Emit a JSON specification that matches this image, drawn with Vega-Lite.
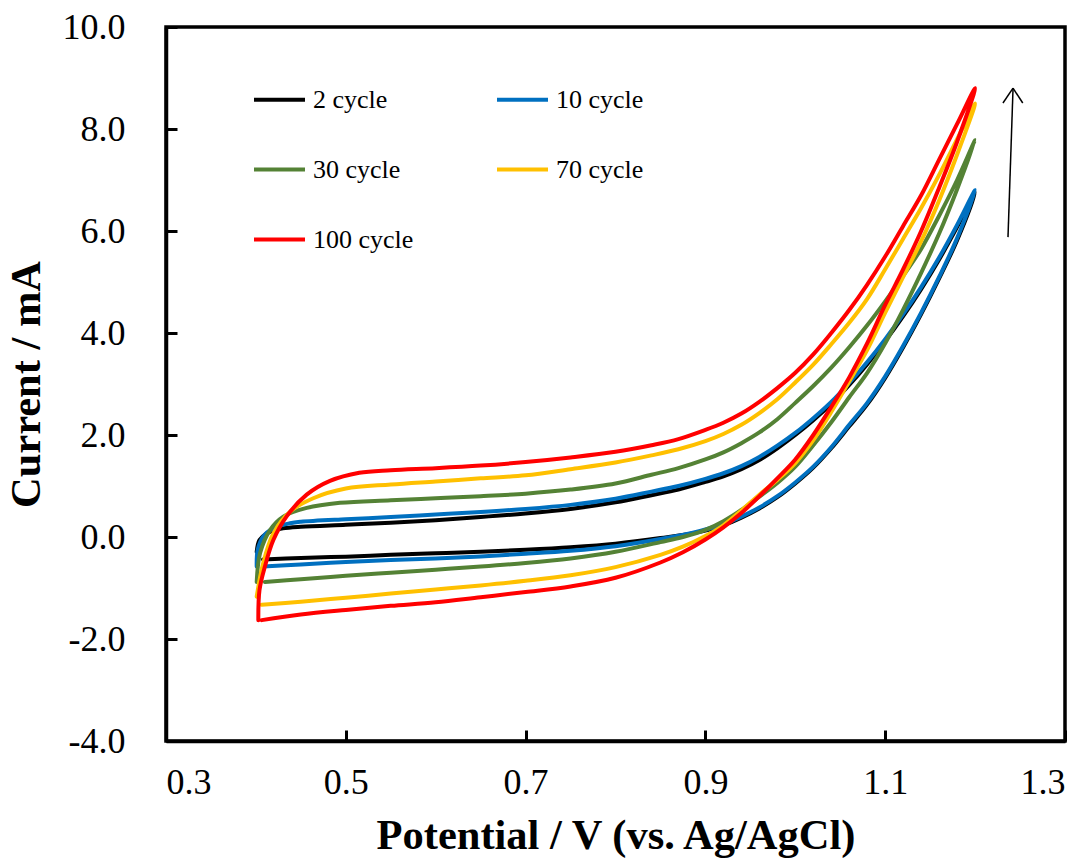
{
  "$schema": "https://vega.github.io/schema/vega-lite/v6.json",
  "width": 899,
  "height": 714,
  "autosize": {"type": "none"},
  "padding": {"left": 166, "top": 27, "right": 21, "bottom": 123},
  "background": "white",
  "config": {
    "view": {"stroke": "black", "strokeWidth": 3.5},
    "font": "Liberation Serif",
    "axis": {
      "grid": false,
      "domainColor": "black",
      "domainWidth": 3.5,
      "tickColor": "black",
      "tickWidth": 3,
      "tickSize": -11,
      "labelFont": "Liberation Serif",
      "labelFontSize": 36,
      "labelColor": "black",
      "titleFont": "Liberation Serif",
      "titleFontSize": 42.5,
      "titleFontWeight": "bold",
      "titleColor": "black"
    }
  },
  "datasets": {
    "cv": [
      {"c":"2 cycle","i":0,"v":0.408,"a":-0.44},{"c":"2 cycle","i":1,"v":0.45,"a":-0.41},{"c":"2 cycle","i":2,"v":0.5,"a":-0.385},{"c":"2 cycle","i":3,"v":0.55,"a":-0.35},{"c":"2 cycle","i":4,"v":0.6,"a":-0.32},{"c":"2 cycle","i":5,"v":0.65,"a":-0.29},{"c":"2 cycle","i":6,"v":0.7,"a":-0.25},{"c":"2 cycle","i":7,"v":0.75,"a":-0.2},{"c":"2 cycle","i":8,"v":0.8,"a":-0.13},{"c":"2 cycle","i":9,"v":0.85,"a":-0.02},{"c":"2 cycle","i":10,"v":0.894,"a":0.10},{"c":"2 cycle","i":11,"v":0.92,"a":0.23},{"c":"2 cycle","i":12,"v":0.94,"a":0.38},{"c":"2 cycle","i":13,"v":0.96,"a":0.56},{"c":"2 cycle","i":14,"v":0.98,"a":0.78},{"c":"2 cycle","i":15,"v":1.0,"a":1.05},{"c":"2 cycle","i":16,"v":1.02,"a":1.36},{"c":"2 cycle","i":17,"v":1.04,"a":1.74},{"c":"2 cycle","i":18,"v":1.06,"a":2.17},{"c":"2 cycle","i":19,"v":1.08,"a":2.6},{"c":"2 cycle","i":20,"v":1.1,"a":3.12},{"c":"2 cycle","i":21,"v":1.12,"a":3.72},{"c":"2 cycle","i":22,"v":1.14,"a":4.37},{"c":"2 cycle","i":23,"v":1.16,"a":5.07},{"c":"2 cycle","i":24,"v":1.18,"a":5.82},{"c":"2 cycle","i":25,"v":1.2,"a":6.75},
      {"c":"2 cycle","i":26,"v":1.18,"a":6.08},{"c":"2 cycle","i":27,"v":1.16,"a":5.44},{"c":"2 cycle","i":28,"v":1.14,"a":4.86},{"c":"2 cycle","i":29,"v":1.12,"a":4.33},{"c":"2 cycle","i":30,"v":1.1,"a":3.84},{"c":"2 cycle","i":31,"v":1.08,"a":3.39},{"c":"2 cycle","i":32,"v":1.06,"a":2.98},{"c":"2 cycle","i":33,"v":1.04,"a":2.61},{"c":"2 cycle","i":34,"v":1.02,"a":2.29},{"c":"2 cycle","i":35,"v":1.0,"a":2.0},{"c":"2 cycle","i":36,"v":0.98,"a":1.74},{"c":"2 cycle","i":37,"v":0.96,"a":1.51},{"c":"2 cycle","i":38,"v":0.94,"a":1.33},{"c":"2 cycle","i":39,"v":0.92,"a":1.19},{"c":"2 cycle","i":40,"v":0.9,"a":1.08},{"c":"2 cycle","i":41,"v":0.87,"a":0.93},{"c":"2 cycle","i":42,"v":0.84,"a":0.82},{"c":"2 cycle","i":43,"v":0.8,"a":0.68},{"c":"2 cycle","i":44,"v":0.75,"a":0.55},{"c":"2 cycle","i":45,"v":0.7,"a":0.46},{"c":"2 cycle","i":46,"v":0.65,"a":0.39},{"c":"2 cycle","i":47,"v":0.6,"a":0.33},{"c":"2 cycle","i":48,"v":0.55,"a":0.28},{"c":"2 cycle","i":49,"v":0.5,"a":0.24},{"c":"2 cycle","i":50,"v":0.45,"a":0.2},{"c":"2 cycle","i":51,"v":0.43,"a":0.17},{"c":"2 cycle","i":52,"v":0.42,"a":0.13},{"c":"2 cycle","i":53,"v":0.412,"a":0.07},{"c":"2 cycle","i":54,"v":0.404,"a":-0.06},{"c":"2 cycle","i":55,"v":0.4009,"a":-0.29},
      {"c":"10 cycle","i":0,"v":0.408,"a":-0.58},{"c":"10 cycle","i":1,"v":0.45,"a":-0.54},{"c":"10 cycle","i":2,"v":0.5,"a":-0.49},{"c":"10 cycle","i":3,"v":0.55,"a":-0.45},{"c":"10 cycle","i":4,"v":0.6,"a":-0.42},{"c":"10 cycle","i":5,"v":0.65,"a":-0.38},{"c":"10 cycle","i":6,"v":0.7,"a":-0.33},{"c":"10 cycle","i":7,"v":0.75,"a":-0.27},{"c":"10 cycle","i":8,"v":0.8,"a":-0.18},{"c":"10 cycle","i":9,"v":0.85,"a":-0.04},{"c":"10 cycle","i":10,"v":0.894,"a":0.12},{"c":"10 cycle","i":11,"v":0.92,"a":0.25},{"c":"10 cycle","i":12,"v":0.94,"a":0.40},{"c":"10 cycle","i":13,"v":0.96,"a":0.58},{"c":"10 cycle","i":14,"v":0.98,"a":0.80},{"c":"10 cycle","i":15,"v":1.0,"a":1.07},{"c":"10 cycle","i":16,"v":1.02,"a":1.38},{"c":"10 cycle","i":17,"v":1.04,"a":1.76},{"c":"10 cycle","i":18,"v":1.06,"a":2.2},{"c":"10 cycle","i":19,"v":1.08,"a":2.63},{"c":"10 cycle","i":20,"v":1.1,"a":3.15},{"c":"10 cycle","i":21,"v":1.12,"a":3.75},{"c":"10 cycle","i":22,"v":1.14,"a":4.4},{"c":"10 cycle","i":23,"v":1.16,"a":5.1},{"c":"10 cycle","i":24,"v":1.18,"a":5.86},{"c":"10 cycle","i":25,"v":1.2,"a":6.8},
      {"c":"10 cycle","i":26,"v":1.18,"a":6.12},{"c":"10 cycle","i":27,"v":1.16,"a":5.48},{"c":"10 cycle","i":28,"v":1.14,"a":4.9},{"c":"10 cycle","i":29,"v":1.12,"a":4.37},{"c":"10 cycle","i":30,"v":1.1,"a":3.88},{"c":"10 cycle","i":31,"v":1.08,"a":3.43},{"c":"10 cycle","i":32,"v":1.06,"a":3.02},{"c":"10 cycle","i":33,"v":1.04,"a":2.65},{"c":"10 cycle","i":34,"v":1.02,"a":2.33},{"c":"10 cycle","i":35,"v":1.0,"a":2.04},{"c":"10 cycle","i":36,"v":0.98,"a":1.79},{"c":"10 cycle","i":37,"v":0.96,"a":1.57},{"c":"10 cycle","i":38,"v":0.94,"a":1.39},{"c":"10 cycle","i":39,"v":0.92,"a":1.25},{"c":"10 cycle","i":40,"v":0.9,"a":1.14},{"c":"10 cycle","i":41,"v":0.87,"a":1.0},{"c":"10 cycle","i":42,"v":0.84,"a":0.89},{"c":"10 cycle","i":43,"v":0.8,"a":0.75},{"c":"10 cycle","i":44,"v":0.75,"a":0.63},{"c":"10 cycle","i":45,"v":0.7,"a":0.55},{"c":"10 cycle","i":46,"v":0.65,"a":0.49},{"c":"10 cycle","i":47,"v":0.6,"a":0.44},{"c":"10 cycle","i":48,"v":0.55,"a":0.39},{"c":"10 cycle","i":49,"v":0.5,"a":0.35},{"c":"10 cycle","i":50,"v":0.45,"a":0.3},{"c":"10 cycle","i":51,"v":0.438,"a":0.27},{"c":"10 cycle","i":52,"v":0.4194,"a":0.17},{"c":"10 cycle","i":53,"v":0.408,"a":0.006},{"c":"10 cycle","i":54,"v":0.402,"a":-0.25},{"c":"10 cycle","i":55,"v":0.4009,"a":-0.58},
      {"c":"30 cycle","i":0,"v":0.41,"a":-0.88},{"c":"30 cycle","i":1,"v":0.45,"a":-0.83},{"c":"30 cycle","i":2,"v":0.5,"a":-0.76},{"c":"30 cycle","i":3,"v":0.55,"a":-0.7},{"c":"30 cycle","i":4,"v":0.6,"a":-0.64},{"c":"30 cycle","i":5,"v":0.65,"a":-0.58},{"c":"30 cycle","i":6,"v":0.7,"a":-0.51},{"c":"30 cycle","i":7,"v":0.75,"a":-0.42},{"c":"30 cycle","i":8,"v":0.8,"a":-0.29},{"c":"30 cycle","i":9,"v":0.85,"a":-0.10},{"c":"30 cycle","i":10,"v":0.875,"a":0.0},{"c":"30 cycle","i":11,"v":0.9,"a":0.14},{"c":"30 cycle","i":12,"v":0.92,"a":0.31},{"c":"30 cycle","i":13,"v":0.94,"a":0.53},{"c":"30 cycle","i":14,"v":0.96,"a":0.79},{"c":"30 cycle","i":15,"v":0.98,"a":1.06},{"c":"30 cycle","i":16,"v":1.0,"a":1.38},{"c":"30 cycle","i":17,"v":1.02,"a":1.8},{"c":"30 cycle","i":18,"v":1.04,"a":2.25},{"c":"30 cycle","i":19,"v":1.06,"a":2.74},{"c":"30 cycle","i":20,"v":1.08,"a":3.22},{"c":"30 cycle","i":21,"v":1.1,"a":3.8},{"c":"30 cycle","i":22,"v":1.12,"a":4.46},{"c":"30 cycle","i":23,"v":1.14,"a":5.18},{"c":"30 cycle","i":24,"v":1.16,"a":5.95},{"c":"30 cycle","i":25,"v":1.18,"a":6.82},{"c":"30 cycle","i":26,"v":1.2,"a":7.78},
      {"c":"30 cycle","i":27,"v":1.18,"a":7.0},{"c":"30 cycle","i":28,"v":1.16,"a":6.3},{"c":"30 cycle","i":29,"v":1.14,"a":5.65},{"c":"30 cycle","i":30,"v":1.12,"a":5.12},{"c":"30 cycle","i":31,"v":1.1,"a":4.62},{"c":"30 cycle","i":32,"v":1.08,"a":4.15},{"c":"30 cycle","i":33,"v":1.06,"a":3.72},{"c":"30 cycle","i":34,"v":1.04,"a":3.32},{"c":"30 cycle","i":35,"v":1.02,"a":2.96},{"c":"30 cycle","i":36,"v":1.0,"a":2.63},{"c":"30 cycle","i":37,"v":0.98,"a":2.31},{"c":"30 cycle","i":38,"v":0.96,"a":2.05},{"c":"30 cycle","i":39,"v":0.94,"a":1.84},{"c":"30 cycle","i":40,"v":0.92,"a":1.66},{"c":"30 cycle","i":41,"v":0.9,"a":1.52},{"c":"30 cycle","i":42,"v":0.87,"a":1.35},{"c":"30 cycle","i":43,"v":0.84,"a":1.22},{"c":"30 cycle","i":44,"v":0.8,"a":1.05},{"c":"30 cycle","i":45,"v":0.75,"a":0.93},{"c":"30 cycle","i":46,"v":0.7,"a":0.85},{"c":"30 cycle","i":47,"v":0.65,"a":0.8},{"c":"30 cycle","i":48,"v":0.6,"a":0.76},{"c":"30 cycle","i":49,"v":0.55,"a":0.72},{"c":"30 cycle","i":50,"v":0.4935,"a":0.67},{"c":"30 cycle","i":51,"v":0.4565,"a":0.57},{"c":"30 cycle","i":52,"v":0.4305,"a":0.40},{"c":"30 cycle","i":53,"v":0.4157,"a":0.137},{"c":"30 cycle","i":54,"v":0.4046,"a":-0.32},{"c":"30 cycle","i":55,"v":0.4009,"a":-0.88},
      {"c":"70 cycle","i":0,"v":0.4065,"a":-1.33},{"c":"70 cycle","i":1,"v":0.45,"a":-1.27},{"c":"70 cycle","i":2,"v":0.5,"a":-1.19},{"c":"70 cycle","i":3,"v":0.55,"a":-1.11},{"c":"70 cycle","i":4,"v":0.6,"a":-1.03},{"c":"70 cycle","i":5,"v":0.65,"a":-0.95},{"c":"70 cycle","i":6,"v":0.7,"a":-0.86},{"c":"70 cycle","i":7,"v":0.75,"a":-0.75},{"c":"70 cycle","i":8,"v":0.8,"a":-0.59},{"c":"70 cycle","i":9,"v":0.85,"a":-0.35},{"c":"70 cycle","i":10,"v":0.875,"a":-0.19},{"c":"70 cycle","i":11,"v":0.9,"a":0.02},{"c":"70 cycle","i":12,"v":0.92,"a":0.23},{"c":"70 cycle","i":13,"v":0.94,"a":0.52},{"c":"70 cycle","i":14,"v":0.96,"a":0.83},{"c":"70 cycle","i":15,"v":0.98,"a":1.12},{"c":"70 cycle","i":16,"v":1.0,"a":1.45},{"c":"70 cycle","i":17,"v":1.02,"a":1.9},{"c":"70 cycle","i":18,"v":1.04,"a":2.45},{"c":"70 cycle","i":19,"v":1.06,"a":3.05},{"c":"70 cycle","i":20,"v":1.08,"a":3.67},{"c":"70 cycle","i":21,"v":1.1,"a":4.4},{"c":"70 cycle","i":22,"v":1.12,"a":5.1},{"c":"70 cycle","i":23,"v":1.14,"a":5.8},{"c":"70 cycle","i":24,"v":1.16,"a":6.6},{"c":"70 cycle","i":25,"v":1.18,"a":7.5},{"c":"70 cycle","i":26,"v":1.2,"a":8.5},
      {"c":"70 cycle","i":27,"v":1.18,"a":7.8},{"c":"70 cycle","i":28,"v":1.16,"a":7.1},{"c":"70 cycle","i":29,"v":1.14,"a":6.45},{"c":"70 cycle","i":30,"v":1.12,"a":5.85},{"c":"70 cycle","i":31,"v":1.1,"a":5.25},{"c":"70 cycle","i":32,"v":1.08,"a":4.67},{"c":"70 cycle","i":33,"v":1.06,"a":4.2},{"c":"70 cycle","i":34,"v":1.04,"a":3.78},{"c":"70 cycle","i":35,"v":1.02,"a":3.38},{"c":"70 cycle","i":36,"v":1.0,"a":3.03},{"c":"70 cycle","i":37,"v":0.98,"a":2.7},{"c":"70 cycle","i":38,"v":0.96,"a":2.43},{"c":"70 cycle","i":39,"v":0.94,"a":2.2},{"c":"70 cycle","i":40,"v":0.92,"a":2.02},{"c":"70 cycle","i":41,"v":0.9,"a":1.88},{"c":"70 cycle","i":42,"v":0.87,"a":1.72},{"c":"70 cycle","i":43,"v":0.84,"a":1.6},{"c":"70 cycle","i":44,"v":0.8,"a":1.46},{"c":"70 cycle","i":45,"v":0.75,"a":1.33},{"c":"70 cycle","i":46,"v":0.7,"a":1.21},{"c":"70 cycle","i":47,"v":0.65,"a":1.15},{"c":"70 cycle","i":48,"v":0.6,"a":1.09},{"c":"70 cycle","i":49,"v":0.55,"a":1.03},{"c":"70 cycle","i":50,"v":0.5,"a":0.95},{"c":"70 cycle","i":51,"v":0.4638,"a":0.76},{"c":"70 cycle","i":52,"v":0.438,"a":0.496},{"c":"70 cycle","i":53,"v":0.4194,"a":0.07},{"c":"70 cycle","i":54,"v":0.408,"a":-0.52},{"c":"70 cycle","i":55,"v":0.4009,"a":-1.17},
      {"c":"100 cycle","i":0,"v":0.4065,"a":-1.63},{"c":"100 cycle","i":1,"v":0.45,"a":-1.52},{"c":"100 cycle","i":2,"v":0.5,"a":-1.43},{"c":"100 cycle","i":3,"v":0.55,"a":-1.35},{"c":"100 cycle","i":4,"v":0.6,"a":-1.28},{"c":"100 cycle","i":5,"v":0.65,"a":-1.18},{"c":"100 cycle","i":6,"v":0.7,"a":-1.08},{"c":"100 cycle","i":7,"v":0.75,"a":-0.97},{"c":"100 cycle","i":8,"v":0.8,"a":-0.80},{"c":"100 cycle","i":9,"v":0.85,"a":-0.50},{"c":"100 cycle","i":10,"v":0.875,"a":-0.30},{"c":"100 cycle","i":11,"v":0.9,"a":-0.05},{"c":"100 cycle","i":12,"v":0.92,"a":0.19},{"c":"100 cycle","i":13,"v":0.94,"a":0.47},{"c":"100 cycle","i":14,"v":0.96,"a":0.8},{"c":"100 cycle","i":15,"v":0.98,"a":1.15},{"c":"100 cycle","i":16,"v":1.0,"a":1.52},{"c":"100 cycle","i":17,"v":1.02,"a":2.0},{"c":"100 cycle","i":18,"v":1.04,"a":2.55},{"c":"100 cycle","i":19,"v":1.06,"a":3.13},{"c":"100 cycle","i":20,"v":1.08,"a":3.8},{"c":"100 cycle","i":21,"v":1.1,"a":4.55},{"c":"100 cycle","i":22,"v":1.12,"a":5.25},{"c":"100 cycle","i":23,"v":1.14,"a":6.0},{"c":"100 cycle","i":24,"v":1.16,"a":6.85},{"c":"100 cycle","i":25,"v":1.18,"a":7.75},{"c":"100 cycle","i":26,"v":1.2,"a":8.8},
      {"c":"100 cycle","i":27,"v":1.18,"a":8.1},{"c":"100 cycle","i":28,"v":1.16,"a":7.4},{"c":"100 cycle","i":29,"v":1.14,"a":6.7},{"c":"100 cycle","i":30,"v":1.12,"a":6.1},{"c":"100 cycle","i":31,"v":1.1,"a":5.5},{"c":"100 cycle","i":32,"v":1.08,"a":4.95},{"c":"100 cycle","i":33,"v":1.06,"a":4.45},{"c":"100 cycle","i":34,"v":1.04,"a":4.0},{"c":"100 cycle","i":35,"v":1.02,"a":3.58},{"c":"100 cycle","i":36,"v":1.0,"a":3.22},{"c":"100 cycle","i":37,"v":0.98,"a":2.92},{"c":"100 cycle","i":38,"v":0.96,"a":2.65},{"c":"100 cycle","i":39,"v":0.94,"a":2.42},{"c":"100 cycle","i":40,"v":0.92,"a":2.24},{"c":"100 cycle","i":41,"v":0.9,"a":2.1},{"c":"100 cycle","i":42,"v":0.87,"a":1.92},{"c":"100 cycle","i":43,"v":0.84,"a":1.8},{"c":"100 cycle","i":44,"v":0.8,"a":1.67},{"c":"100 cycle","i":45,"v":0.75,"a":1.56},{"c":"100 cycle","i":46,"v":0.7,"a":1.47},{"c":"100 cycle","i":47,"v":0.65,"a":1.4},{"c":"100 cycle","i":48,"v":0.6,"a":1.35},{"c":"100 cycle","i":49,"v":0.55,"a":1.31},{"c":"100 cycle","i":50,"v":0.515,"a":1.26},{"c":"100 cycle","i":51,"v":0.4824,"a":1.1},{"c":"100 cycle","i":52,"v":0.4565,"a":0.83},{"c":"100 cycle","i":53,"v":0.434,"a":0.40},{"c":"100 cycle","i":54,"v":0.4194,"a":-0.06},{"c":"100 cycle","i":55,"v":0.41,"a":-0.58},{"c":"100 cycle","i":56,"v":0.404,"a":-1.04},{"c":"100 cycle","i":57,"v":0.4027,"a":-1.63}
    ],
    "arrow": [
      {"x1":1.2366,"y1":5.88,"x2":1.2422,"y2":8.80},
      {"x1":1.231,"y1":8.51,"x2":1.2422,"y2":8.80},
      {"x1":1.253,"y1":8.51,"x2":1.2422,"y2":8.80}
    ]
  },
  "layer": [
    {
      "data": {"name": "cv"},
      "mark": {"type": "line", "strokeWidth": 4, "interpolate": "catmull-rom", "strokeCap": "round", "strokeJoin": "round"},
      "encoding": {
        "x": {
          "field": "v", "type": "quantitative",
          "scale": {"domain": [0.3, 1.3], "nice": false, "zero": false},
          "axis": {"values": [0.3, 0.5, 0.7, 0.9, 1.1, 1.3], "format": ".1f", "labelPadding": 35, "title": "Potential / V (vs. Ag/AgCl)", "titlePadding": 14}
        },
        "y": {
          "field": "a", "type": "quantitative",
          "scale": {"domain": [-4, 10], "nice": false, "zero": false},
          "axis": {"values": [-4, -2, 0, 2, 4, 6, 8, 10], "labelExpr": "(datum.value < 0 ? '-' : '') + format(abs(datum.value), '.1f')", "labelPadding": 52, "title": "Current / mA", "titlePadding": 14}
        },
        "color": {
          "field": "c", "type": "nominal",
          "scale": {"domain": ["2 cycle", "10 cycle", "30 cycle", "70 cycle", "100 cycle"], "range": ["#000000", "#0070C0", "#548235", "#FFC000", "#FF0000"]},
          "legend": {
            "title": null, "orient": "none", "legendX": 86, "legendY": 45, "columns": 2, "direction": "horizontal",
            "symbolType": "stroke", "symbolSize": 2601, "symbolStrokeWidth": 4,
            "labelFont": "Liberation Serif", "labelFontSize": 26, "labelColor": "black", "labelOffset": 6,
            "rowPadding": 29, "columnPadding": 75, "padding": 0
          }
        },
        "order": {"field": "i", "type": "quantitative"}
      }
    },
    {
      "data": {"name": "arrow"},
      "mark": {"type": "rule", "color": "black", "strokeWidth": 1.5},
      "encoding": {
        "x": {"field": "x1", "type": "quantitative"},
        "y": {"field": "y1", "type": "quantitative"},
        "x2": {"field": "x2"},
        "y2": {"field": "y2"}
      }
    }
  ]
}
